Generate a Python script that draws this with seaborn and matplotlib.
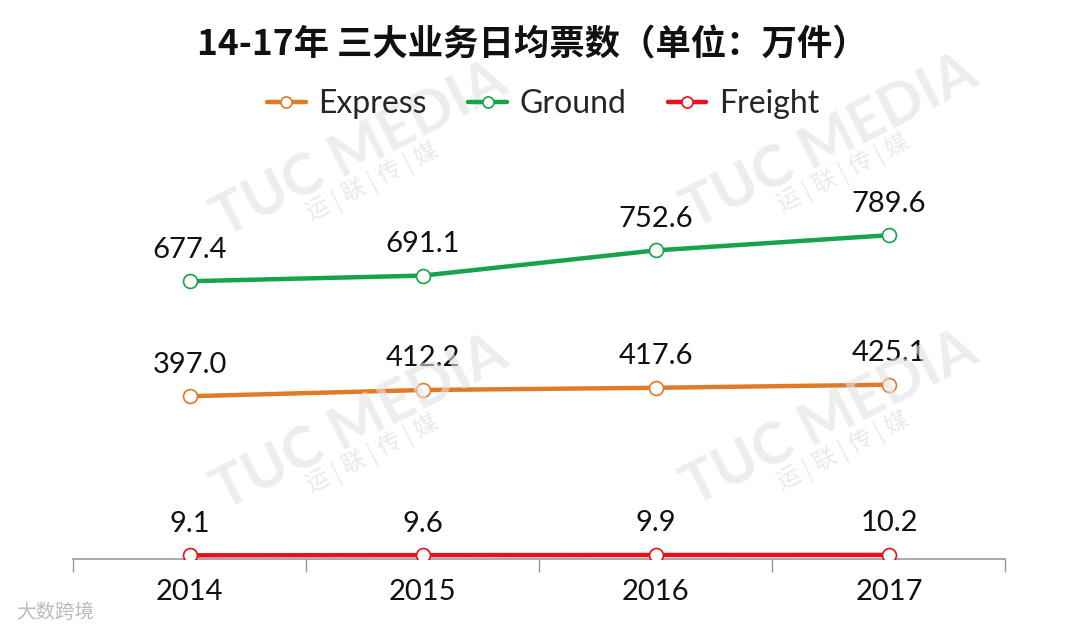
import pandas as pd
import matplotlib
matplotlib.use('Agg')
import matplotlib.pyplot as plt
import seaborn as sns

years = ['2014', '2015', '2016', '2017']
series_names = ['Express', 'Ground', 'Freight']
express = [397.0, 412.2, 417.6, 425.1]
ground = [677.4, 691.1, 752.6, 789.6]
freight = [9.1, 9.6, 9.9, 10.2]
colors = {'Express': '#E07A26', 'Ground': '#17A349', 'Freight': '#E8101A'}

df = pd.DataFrame({
    'year_idx': list(range(len(years))) * 3,
    'series': [s for s in series_names for _ in years],
    'value': express + ground + freight,
})

sns.set_theme(style='white')
plt.rcParams['font.family'] = ['Lato', 'Noto Sans CJK SC', 'DejaVu Sans']

fig = plt.figure(figsize=(10.8, 6.31), dpi=100)
ax = fig.add_axes([0.0676, 0.114, 0.8634, 0.585])

# faint watermark
for wx, wy in [(0.333, 0.762), (0.769, 0.775), (0.333, 0.330), (0.769, 0.335)]:
    fig.text(wx, wy, 'TUC MEDIA', rotation=27, fontsize=42, fontweight='bold',
             color='#e2e2e2', alpha=0.6, ha='center', va='center', zorder=0)
    fig.text(wx + 0.012, wy - 0.05, '运 | 联 | 传 | 媒', rotation=27, fontsize=17,
             color='#e2e2e2', alpha=0.7, ha='center', va='center', zorder=0,
             family=['Noto Sans CJK SC', 'DejaVu Sans'])
fig.text(0.015, 0.03, '大数跨境', fontsize=14, color='#bbbbbb',
         family=['Noto Sans CJK SC', 'DejaVu Sans'], va='center')

for name in series_names:
    sub = df[df['series'] == name]
    sns.lineplot(data=sub, x='year_idx', y='value', ax=ax, color=colors[name],
                 linewidth=3.2, marker='o', markersize=10, markerfacecolor='white',
                 markeredgecolor=colors[name], markeredgewidth=1.2, label=name,
                 zorder=3)
    for xi, v in zip(sub['year_idx'], sub['value']):
        ax.annotate(f'{v:.1f}', (xi, v), xytext=(0, 17), textcoords='offset points',
                    ha='center', va='baseline', fontsize=21, color='#111111')

ax.set_xlim(-0.5, 3.5)
ax.set_ylim(0, 900)
ax.set_xlabel('')
ax.set_ylabel('')
ax.set_yticks([])
ax.set_xticks(range(len(years)))
ax.set_xticklabels(years, fontsize=21, color='#111111')
ax.set_xticks([i - 0.5 for i in range(len(years) + 1)], minor=True)
ax.tick_params(axis='x', which='major', length=0, pad=14)
ax.tick_params(axis='x', which='minor', length=9, width=1, color='#999999',
               direction='out', bottom=True)
for side in ['top', 'right', 'left']:
    ax.spines[side].set_visible(False)
ax.spines['bottom'].set_color('#999999')
ax.spines['bottom'].set_linewidth(1.2)
ax.patch.set_alpha(0)

ax.legend_.remove()
handles, labels = ax.get_legend_handles_labels()
leg = fig.legend(handles[:3], labels[:3], loc='center', bbox_to_anchor=(0.503, 0.835),
                 ncol=3, frameon=False, fontsize=23, handlelength=1.2,
                 columnspacing=1.3, handletextpad=0.4)
for h in leg.legend_handles:
    h.set_markersize(8)

fig.text(0.493, 0.929, '14-17年 三大业务日均票数（单位：万件）', ha='center', va='center',
         fontsize=25.5, fontweight='bold', color='#111111',
         family=['Noto Sans CJK SC', 'DejaVu Sans'])

fig.savefig('out.png', dpi=100)
